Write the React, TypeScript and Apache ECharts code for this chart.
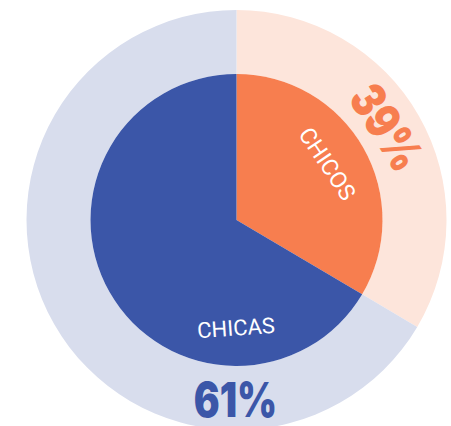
import React, { useEffect, useRef } from "react";
import * as echarts from "echarts";

const categories = ["CHICOS", "CHICAS"];
const shares = [33.5, 66.5];
const percentLabels = ["39%", "61%"];
const innerColors = ["#F77E4F", "#3B56A8"];
const outerColors = ["#FDE5DB", "#D8DDED"];

export default function App() {
  const ref = useRef<HTMLDivElement>(null);
  useEffect(() => {
    if (!ref.current) return;
    const chart = echarts.init(ref.current, undefined, { renderer: "svg" });
    const center = [236.5, 220];
    const deg = Math.PI / 180;
    const txt = (
      text: string,
      x: number,
      y: number,
      rotDeg: number,
      fill: string,
      size: number,
      weight: number,
      family: string,
      scaleX = 1
    ) => ({
      type: "group",
      x,
      y,
      z: 100,
      rotation: rotDeg * deg,
      children: [
        {
          type: "text",
          x: 0,
          y: 0,
          z: 100,
          scaleX,
          style: {
            text,
            fill,
            fontSize: size,
            fontWeight: weight,
            fontFamily: family,
            lineHeight: size,
            align: "center",
            verticalAlign: "middle",
          },
        },
      ],
    });
    chart.setOption({
      animation: false,
      backgroundColor: "#ffffff",
      series: [
        {
          type: "pie",
          center,
          radius: [146, 210],
          startAngle: 90,
          clockwise: true,
          silent: true,
          z: 1,
          label: { show: false },
          labelLine: { show: false },
          data: categories.map((c, i) => ({
            name: c + "_outer",
            value: shares[i],
            itemStyle: { color: outerColors[i] },
          })),
        },
        {
          type: "pie",
          center,
          radius: [0, 146],
          startAngle: 90,
          clockwise: true,
          silent: true,
          z: 1,
          label: { show: false },
          labelLine: { show: false },
          data: categories.map((c, i) => ({
            name: c,
            value: shares[i],
            itemStyle: { color: innerColors[i] },
          })),
        },
      ],
      graphic: {
        elements: [
          txt(categories[0], 327, 164, -56, "#ffffff", 23, 400, "Roboto"),
          txt(categories[1], 236, 328, 4, "#ffffff", 22, 400, "Roboto"),
          txt(percentLabels[0], 387, 127, -57, innerColors[0], 48, 900, "Inter", 0.8),
          txt(percentLabels[1], 235.5, 399, 0, innerColors[1], 48, 900, "Inter", 0.8),
        ],
      },
    });
    return () => chart.dispose();
  }, []);
  return (
    <div
      ref={ref}
      style={{ position: "absolute", left: 0, top: 0, width: 451, height: 426 }}
    />
  );
}
